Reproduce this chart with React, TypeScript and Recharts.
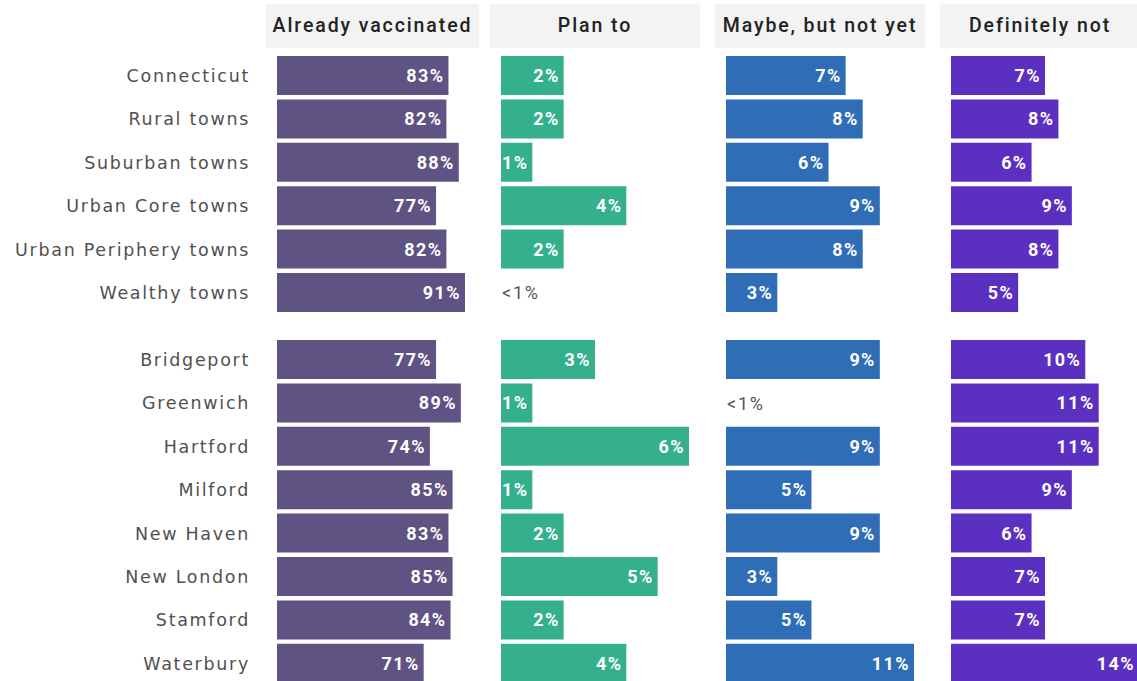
import React from 'react';
import { BarChart, Bar, XAxis, YAxis, LabelList } from 'recharts';

const topCities = ['Connecticut', 'Rural towns', 'Suburban towns', 'Urban Core towns', 'Urban Periphery towns', 'Wealthy towns'];
const bottomCities = ['Bridgeport', 'Greenwich', 'Hartford', 'Milford', 'New Haven', 'New London', 'Stamford', 'Waterbury'];

const panelTitles = ['Already vaccinated', 'Plan to', 'Maybe, but not yet', 'Definitely not'];
const panelColors = ['#5e5383', '#34b08c', '#2f6db6', '#5b30c1'];

// 0 means "<1%"
const alreadyTop = [83, 82, 88, 77, 82, 91];
const alreadyBottom = [77, 89, 74, 85, 83, 85, 84, 71];
const planTop = [2, 2, 1, 4, 2, 0];
const planBottom = [3, 1, 6, 1, 2, 5, 2, 4];
const maybeTop = [7, 8, 6, 9, 8, 3];
const maybeBottom = [9, 0, 9, 5, 9, 3, 5, 11];
const notTop = [7, 8, 6, 9, 8, 5];
const notBottom = [10, 11, 11, 9, 6, 7, 7, 14];

const seriesTop = [alreadyTop, planTop, maybeTop, notTop];
const seriesBottom = [alreadyBottom, planBottom, maybeBottom, notBottom];

const PITCH = 43.4;
const BAR_W = 188;
const LABEL_W = 277;
const panelLeft = [0, 500, 725, 950];
const headerBox = [[266, 213], [490, 210], [715, 210], [940, 200]];

function ValueLabel(props: any) {
  const { x, y, width, height, value } = props;
  if (!value) return null;
  const cy = Number(y) + Number(height) / 2;
  return (
    <text x={Number(x) + Number(width) - 4} y={cy} dy={6.5} textAnchor="end" fill="#fff" fontSize={18} fontWeight={700} fontFamily="Roboto" letterSpacing={1.4}>
      {value}%
    </text>
  );
}

// stands in for the city tick on panels 2-4: prints "<1%" where no bar is drawn
function SmallTick(props: any) {
  const { x, y, index, values } = props;
  if (values[index]) return null;
  return (
    <text x={Number(x) + 1} y={y} dy={6.5} fill="#555" fontSize={18} fontFamily="Roboto" letterSpacing={1.8}>
      {'<1%'}
    </text>
  );
}

function Panel({ idx, cities, values, top }: { idx: number; cities: string[]; values: number[]; top: number }) {
  const data = cities.map((c, i) => ({ city: c, v: values[i] }));
  const max = Math.max(...seriesTop[idx], ...seriesBottom[idx]);
  const withAxis = idx === 0;
  const height = cities.length * PITCH;
  const axisW = withAxis ? LABEL_W : 1;
  return (
    <div style={{ position: 'absolute', left: panelLeft[idx], top }}>
      <BarChart
        layout="vertical"
        width={axisW + BAR_W + 2}
        height={height}
        data={data}
        margin={{ top: 0, right: 2, bottom: 0, left: 0 }}
        barSize={39}
        style={{ overflow: 'visible' }}
      >
        <XAxis type="number" domain={[0, max]} hide />
        {withAxis ? (
          <YAxis
            type="category"
            dataKey="city"
            width={LABEL_W}
            axisLine={false}
            tickLine={false}
            tickSize={0}
            tickMargin={27}
            interval={0}
            tick={{ fill: '#505050', fontSize: 17.5, fontFamily: 'DejaVu Sans', letterSpacing: 1.7 }}
          />
        ) : (
          <YAxis
            type="category"
            dataKey="city"
            width={1}
            axisLine={false}
            tickLine={false}
            tickSize={0}
            tickMargin={0}
            interval={0}
            tick={<SmallTick values={values} />}
          />
        )}
        <Bar dataKey="v" fill={panelColors[idx]} isAnimationActive={false}>
          <LabelList dataKey="v" content={<ValueLabel />} />
        </Bar>
      </BarChart>
    </div>
  );
}

export default function App() {
  return (
    <div style={{ position: 'absolute', left: 0, top: 0, width: 1137, height: 681, overflow: 'hidden', background: '#fff' }}>
      {panelTitles.map((t, i) => (
        <div
          key={t}
          style={{
            position: 'absolute',
            left: headerBox[i][0],
            top: 4,
            width: headerBox[i][1],
            height: 44,
            background: '#f3f3f3',
            color: '#222',
            fontFamily: 'Roboto',
            fontWeight: 500,
            fontSize: 19.5,
            letterSpacing: 1.9,
            lineHeight: '44px',
            textAlign: 'center',
          }}
        >
          {t}
        </div>
      ))}
      {panelTitles.map((t, i) => (
        <Panel key={'t' + t} idx={i} cities={topCities} values={seriesTop[i]} top={76 - PITCH / 2} />
      ))}
      {panelTitles.map((t, i) => (
        <Panel key={'b' + t} idx={i} cities={bottomCities} values={seriesBottom[i]} top={360 - PITCH / 2} />
      ))}
    </div>
  );
}
